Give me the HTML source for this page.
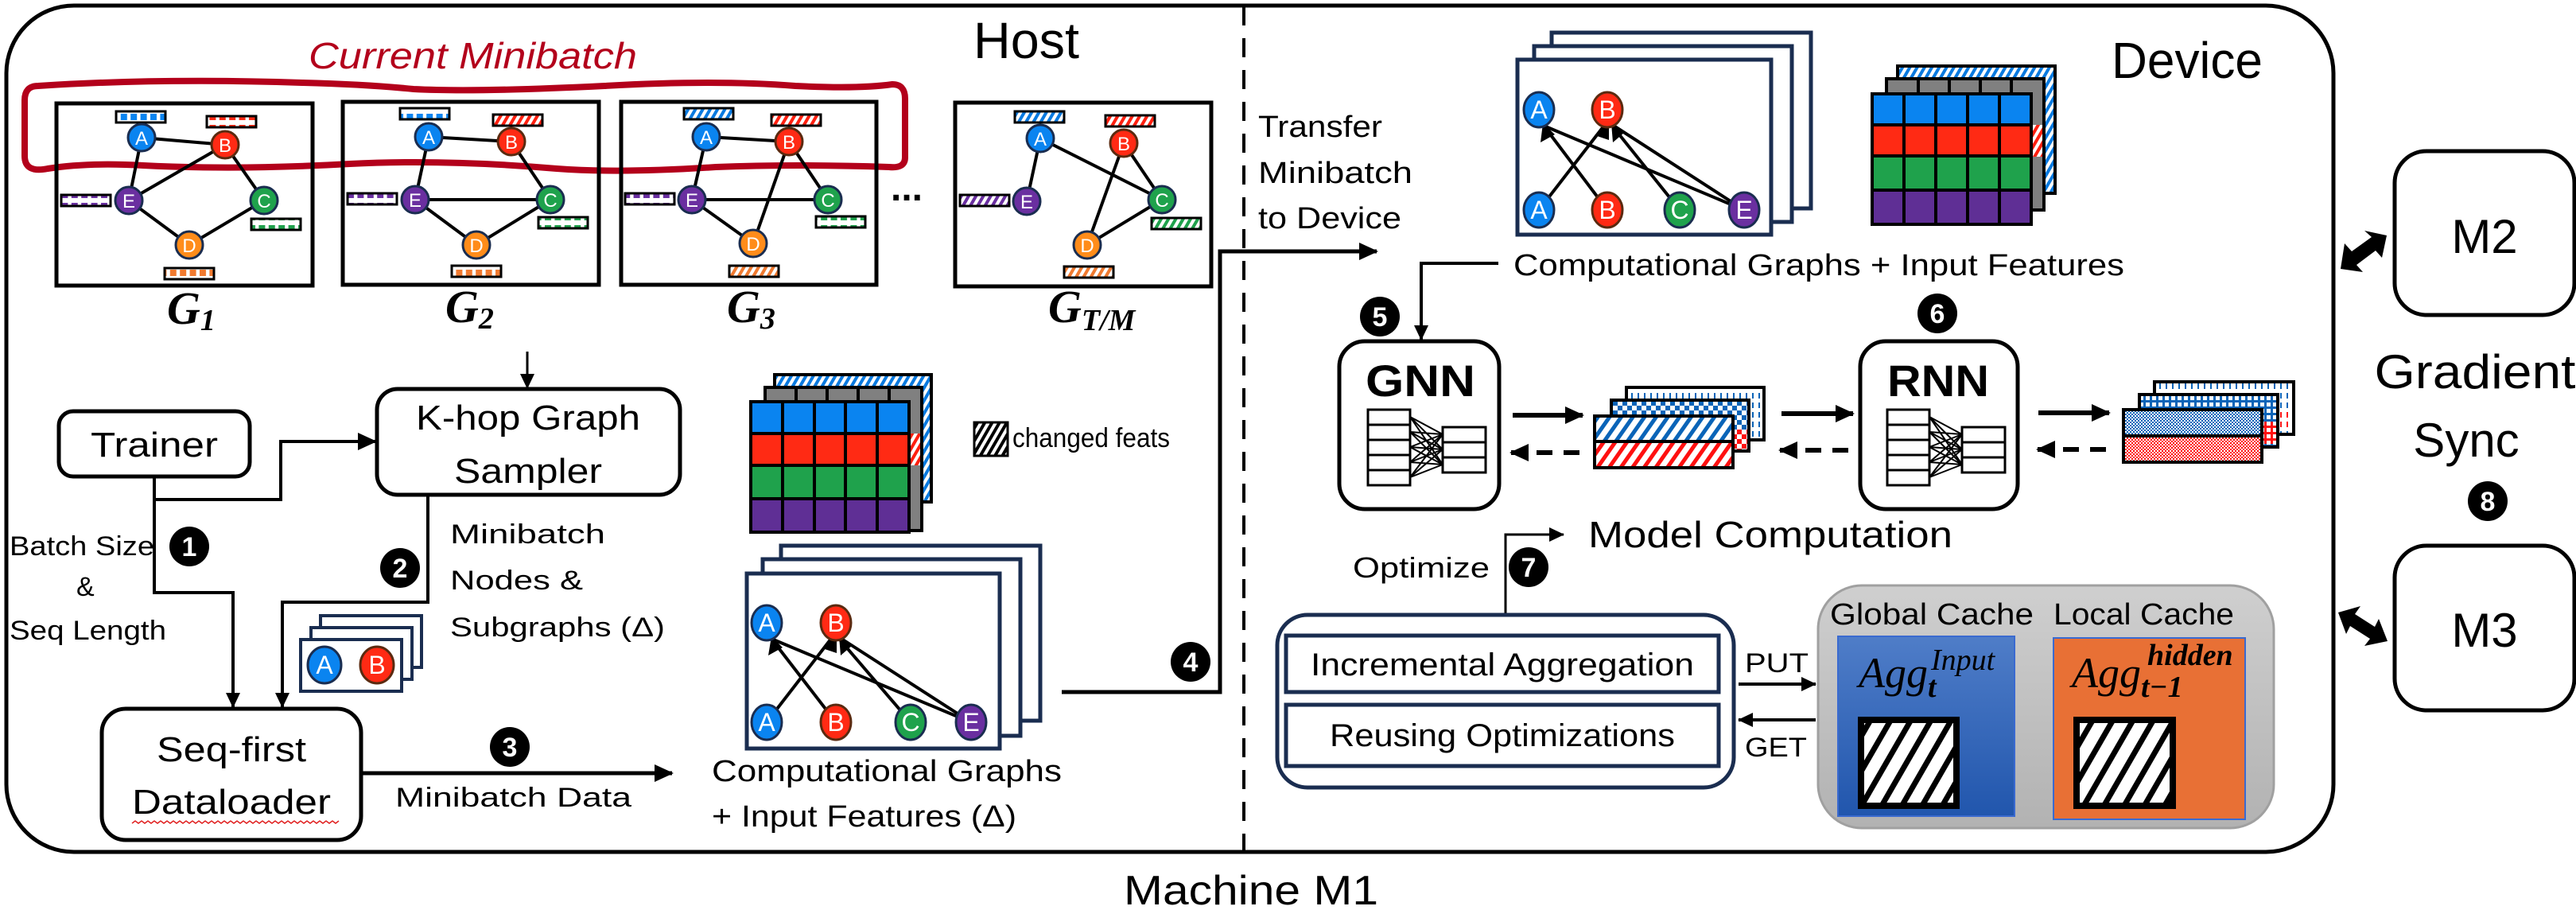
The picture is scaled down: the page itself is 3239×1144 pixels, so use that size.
<!DOCTYPE html>
<html><head><meta charset="utf-8"><style>html,body{margin:0;padding:0;background:#fff}svg{display:block}text{font-family:"Liberation Sans",sans-serif}.sf text,text.sf{font-family:"Liberation Serif",serif}</style></head><body>
<svg width="3239" height="1144" viewBox="0 0 3239 1144" xmlns="http://www.w3.org/2000/svg">
<defs>
<marker id="ah" markerWidth="26" markerHeight="26" refX="22" refY="13" orient="auto" markerUnits="userSpaceOnUse"><path d="M0,2 L24,13 L0,24 Z" fill="#000"/></marker>
<marker id="ahs" markerWidth="20" markerHeight="20" refX="18" refY="10" orient="auto" markerUnits="userSpaceOnUse"><path d="M0,1 L19,10 L0,19 Z" fill="#000"/></marker>
<pattern id="sqB" width="12.4" height="14" patternUnits="userSpaceOnUse"><rect x="3" y="3" width="8" height="8" fill="#0a84f0"/></pattern>
<pattern id="sqR" width="12.4" height="14" patternUnits="userSpaceOnUse"><rect x="3" y="3" width="8" height="8" fill="#ff2a14"/></pattern>
<pattern id="sqG" width="12.4" height="14" patternUnits="userSpaceOnUse"><rect x="3" y="3" width="8" height="8" fill="#1fa24c"/></pattern>
<pattern id="sqP" width="12.4" height="14" patternUnits="userSpaceOnUse"><rect x="3" y="3" width="8" height="8" fill="#6a2fa0"/></pattern>
<pattern id="sqO" width="12.4" height="14" patternUnits="userSpaceOnUse"><rect x="3" y="3" width="8" height="8" fill="#f07a30"/></pattern>
<pattern id="hB" width="8" height="8" patternUnits="userSpaceOnUse" patternTransform="rotate(30)"><rect width="8" height="8" fill="#fff"/><rect width="4" height="8" fill="#0a7ae0"/></pattern>
<pattern id="hR" width="8" height="8" patternUnits="userSpaceOnUse" patternTransform="rotate(30)"><rect width="8" height="8" fill="#fff"/><rect width="4" height="8" fill="#ff2010"/></pattern>
<pattern id="hG" width="8" height="8" patternUnits="userSpaceOnUse" patternTransform="rotate(30)"><rect width="8" height="8" fill="#fff"/><rect width="4" height="8" fill="#1fa24c"/></pattern>
<pattern id="hP" width="8" height="8" patternUnits="userSpaceOnUse" patternTransform="rotate(30)"><rect width="8" height="8" fill="#fff"/><rect width="4" height="8" fill="#6a2fa0"/></pattern>
<pattern id="hO" width="8" height="8" patternUnits="userSpaceOnUse" patternTransform="rotate(30)"><rect width="8" height="8" fill="#fff"/><rect width="4" height="8" fill="#f07a30"/></pattern>
<pattern id="hK" width="8" height="8" patternUnits="userSpaceOnUse" patternTransform="rotate(30)"><rect width="8" height="8" fill="#fff"/><rect width="4" height="8" fill="#000"/></pattern>
<pattern id="hKb" width="22" height="22" patternUnits="userSpaceOnUse" patternTransform="rotate(30)"><rect width="22" height="22" fill="#fff"/><rect width="7" height="22" fill="#000"/></pattern>
<pattern id="hB2" width="12" height="12" patternUnits="userSpaceOnUse" patternTransform="rotate(35)"><rect width="12" height="12" fill="#fff"/><rect width="5" height="12" fill="#0a64b8"/></pattern>
<pattern id="hR2" width="12" height="12" patternUnits="userSpaceOnUse" patternTransform="rotate(35)"><rect width="12" height="12" fill="#fff"/><rect width="5" height="12" fill="#ff1010"/></pattern>
<pattern id="ckB" width="12" height="12" patternUnits="userSpaceOnUse"><rect width="12" height="12" fill="#fff"/><rect width="6" height="6" fill="#0a64b8"/><rect x="6" y="6" width="6" height="6" fill="#0a64b8"/></pattern>
<pattern id="ckR" width="12" height="12" patternUnits="userSpaceOnUse"><rect width="12" height="12" fill="#fff"/><rect width="6" height="6" fill="#ff1010"/><rect x="6" y="6" width="6" height="6" fill="#ff1010"/></pattern>
<pattern id="dtB" width="4" height="4" patternUnits="userSpaceOnUse"><rect width="4" height="4" fill="#fff"/><rect width="2" height="2" fill="#0a64b8"/><rect x="2" y="2" width="2" height="2" fill="#0a64b8"/></pattern>
<pattern id="dtR" width="4" height="4" patternUnits="userSpaceOnUse"><rect width="4" height="4" fill="#fff"/><rect width="2" height="2" fill="#ff1010"/><rect x="2" y="2" width="2" height="2" fill="#ff1010"/></pattern>
<pattern id="grB" width="8" height="8" patternUnits="userSpaceOnUse"><rect width="8" height="8" fill="#0a64b8"/><rect x="2" y="2" width="5" height="5" fill="#fff"/></pattern>
<pattern id="grR" width="8" height="8" patternUnits="userSpaceOnUse"><rect width="8" height="8" fill="#ff1010"/><rect x="2" y="2" width="5" height="5" fill="#fff"/></pattern>
<pattern id="vlB" width="8" height="12" patternUnits="userSpaceOnUse"><rect width="8" height="12" fill="#fff"/><rect x="3" y="2" width="2" height="7" fill="#0a64b8"/></pattern>
<pattern id="vlR" width="8" height="12" patternUnits="userSpaceOnUse"><rect width="8" height="12" fill="#fff"/><rect x="3" y="2" width="2" height="7" fill="#ff1010"/></pattern>
<linearGradient id="gGray" x1="0" y1="0" x2="0" y2="1"><stop offset="0" stop-color="#cfcfcf"/><stop offset="1" stop-color="#b2b2b2"/></linearGradient>
<linearGradient id="gBlue" x1="0" y1="0" x2="0" y2="1"><stop offset="0" stop-color="#4f7dc8"/><stop offset="1" stop-color="#2156ad"/></linearGradient>
</defs>

<path d="M93,7 L2849,7 A85,85 0 0 1 2934,92 L2934,986 A85,85 0 0 1 2849,1071 L93,1071 A85,85 0 0 1 8,986 L8,92 A85,85 0 0 1 93,7 Z" fill="none" stroke="#000" stroke-width="5"/>
<line x1="1564" y1="8" x2="1564" y2="1070" stroke="#000" stroke-width="4" stroke-dasharray="24,16"/>
<text x="1224" y="73" font-size="64" textLength="133" lengthAdjust="spacingAndGlyphs">Host</text>
<text x="2655" y="98" font-size="64" textLength="190" lengthAdjust="spacingAndGlyphs">Device</text>
<text x="1413" y="1137" font-size="52" textLength="320" lengthAdjust="spacingAndGlyphs">Machine M1</text>

<text x="388" y="86" font-size="46" font-style="italic" fill="#b3001b" textLength="413" lengthAdjust="spacingAndGlyphs">Current Minibatch</text>
<path d="M48,108 Q200,98 380,104 Q460,106 520,112 Q600,116 760,108 Q900,100 1000,108 Q1080,112 1122,106 Q1138,106 1138,124 L1138,198 Q1138,212 1118,210 Q1000,206 900,210 Q780,218 700,212 Q560,200 440,206 Q300,214 180,208 Q110,204 60,212 Q31,218 31,196 L31,126 Q31,108 48,108 Z" fill="none" stroke="#b3001b" stroke-width="8"/>

<g stroke="#000" stroke-width="5" fill="none">
<rect x="71" y="130" width="322" height="229"/>
<rect x="431" y="128" width="322" height="230"/>
<rect x="781" y="128" width="321" height="230"/>
<rect x="1201" y="129" width="322" height="231"/>
</g>
<g stroke="#000" stroke-width="4">
<line x1="178" y1="173" x2="283" y2="182"/><line x1="178" y1="173" x2="162" y2="252"/><line x1="283" y1="182" x2="162" y2="252"/><line x1="283" y1="182" x2="332" y2="252"/><line x1="162" y1="252" x2="238" y2="308"/><line x1="332" y1="252" x2="238" y2="308"/>
<line x1="539" y1="172" x2="643" y2="178"/><line x1="539" y1="172" x2="522" y2="251"/><line x1="643" y1="178" x2="692" y2="251"/><line x1="522" y1="251" x2="692" y2="251"/><line x1="522" y1="251" x2="599" y2="308"/><line x1="692" y1="251" x2="599" y2="308"/>
<line x1="888" y1="172" x2="992" y2="178"/><line x1="888" y1="172" x2="870" y2="251"/><line x1="992" y1="178" x2="1041" y2="251"/><line x1="992" y1="178" x2="947" y2="306"/><line x1="870" y1="251" x2="1041" y2="251"/><line x1="870" y1="251" x2="947" y2="306"/>
<line x1="1308" y1="174" x2="1291" y2="253"/><line x1="1308" y1="174" x2="1461" y2="251"/><line x1="1413" y1="180" x2="1461" y2="251"/><line x1="1413" y1="180" x2="1367" y2="308"/><line x1="1461" y1="251" x2="1367" y2="308"/>
</g>
<g stroke="#000" stroke-width="3">
<rect x="146" y="140" width="62" height="14" fill="url(#sqB)"/><rect x="260" y="146" width="62" height="14" fill="url(#sqR)"/><rect x="77" y="245" width="62" height="14" fill="url(#sqP)"/><rect x="316" y="275" width="62" height="14" fill="url(#sqG)"/><rect x="207" y="337" width="62" height="14" fill="url(#sqO)"/>
<rect x="503" y="136" width="62" height="14" fill="url(#sqB)"/><rect x="620" y="144" width="62" height="14" fill="url(#hR)"/><rect x="437" y="243" width="62" height="14" fill="url(#sqP)"/><rect x="677" y="273" width="62" height="14" fill="url(#sqG)"/><rect x="568" y="334" width="62" height="14" fill="url(#sqO)"/>
<rect x="860" y="136" width="62" height="14" fill="url(#hB)"/><rect x="970" y="144" width="62" height="14" fill="url(#hR)"/><rect x="786" y="243" width="62" height="14" fill="url(#sqP)"/><rect x="1026" y="272" width="62" height="14" fill="url(#sqG)"/><rect x="917" y="334" width="62" height="14" fill="url(#hO)"/>
<rect x="1276" y="140" width="62" height="14" fill="url(#hB)"/><rect x="1390" y="145" width="62" height="14" fill="url(#hR)"/><rect x="1207" y="245" width="62" height="14" fill="url(#hP)"/><rect x="1448" y="274" width="62" height="14" fill="url(#hG)"/><rect x="1338" y="335" width="62" height="14" fill="url(#hO)"/>
</g>
<g font-size="24" fill="#fff" text-anchor="middle" stroke-width="3">
<g><circle cx="178" cy="173" r="17" fill="#0a84f0" stroke="#1a2d50"/><text x="178" y="182" stroke="none">A</text><circle cx="283" cy="182" r="17" fill="#ff2a14" stroke="#5a2a10"/><text x="283" y="191" stroke="none">B</text><circle cx="162" cy="252" r="17" fill="#6a2fa0" stroke="#1a2d50"/><text x="162" y="261" stroke="none">E</text><circle cx="332" cy="252" r="17" fill="#1fa24c" stroke="#1a2d50"/><text x="332" y="261" stroke="none">C</text><circle cx="238" cy="308" r="17" fill="#ff8c1a" stroke="#1a2d50"/><text x="238" y="317" stroke="none">D</text></g>
<g><circle cx="539" cy="172" r="17" fill="#0a84f0" stroke="#1a2d50"/><text x="539" y="181" stroke="none">A</text><circle cx="643" cy="178" r="17" fill="#ff2a14" stroke="#5a2a10"/><text x="643" y="187" stroke="none">B</text><circle cx="522" cy="251" r="17" fill="#6a2fa0" stroke="#1a2d50"/><text x="522" y="260" stroke="none">E</text><circle cx="692" cy="251" r="17" fill="#1fa24c" stroke="#1a2d50"/><text x="692" y="260" stroke="none">C</text><circle cx="599" cy="308" r="17" fill="#ff8c1a" stroke="#1a2d50"/><text x="599" y="317" stroke="none">D</text></g>
<g><circle cx="888" cy="172" r="17" fill="#0a84f0" stroke="#1a2d50"/><text x="888" y="181" stroke="none">A</text><circle cx="992" cy="178" r="17" fill="#ff2a14" stroke="#5a2a10"/><text x="992" y="187" stroke="none">B</text><circle cx="870" cy="251" r="17" fill="#6a2fa0" stroke="#1a2d50"/><text x="870" y="260" stroke="none">E</text><circle cx="1041" cy="251" r="17" fill="#1fa24c" stroke="#1a2d50"/><text x="1041" y="260" stroke="none">C</text><circle cx="947" cy="306" r="17" fill="#ff8c1a" stroke="#1a2d50"/><text x="947" y="315" stroke="none">D</text></g>
<g><circle cx="1308" cy="174" r="17" fill="#0a84f0" stroke="#1a2d50"/><text x="1308" y="183" stroke="none">A</text><circle cx="1413" cy="180" r="17" fill="#ff2a14" stroke="#5a2a10"/><text x="1413" y="189" stroke="none">B</text><circle cx="1291" cy="253" r="17" fill="#6a2fa0" stroke="#1a2d50"/><text x="1291" y="262" stroke="none">E</text><circle cx="1461" cy="251" r="17" fill="#1fa24c" stroke="#1a2d50"/><text x="1461" y="260" stroke="none">C</text><circle cx="1367" cy="308" r="17" fill="#ff8c1a" stroke="#1a2d50"/><text x="1367" y="317" stroke="none">D</text></g>
</g>
<text x="1120" y="252" font-size="48" font-weight="bold">...</text>
<g class="sf" font-style="italic" font-weight="bold" font-size="58">
<text x="210" y="407">G<tspan font-size="38" dy="8">1</tspan></text>
<text x="560" y="405">G<tspan font-size="38" dy="8">2</tspan></text>
<text x="914" y="405">G<tspan font-size="38" dy="8">3</tspan></text>
<text x="1318" y="405">G<tspan font-size="38" dy="10">T/M</tspan></text>
</g>

<line x1="663" y1="442" x2="663" y2="488" stroke="#000" stroke-width="3" marker-end="url(#ahs)"/>
<rect x="474" y="489" width="381" height="133" rx="26" fill="#fff" stroke="#000" stroke-width="5"/>
<text x="664" y="540" font-size="44" text-anchor="middle" textLength="282" lengthAdjust="spacingAndGlyphs">K-hop Graph</text>
<text x="664" y="607" font-size="44" text-anchor="middle" textLength="186" lengthAdjust="spacingAndGlyphs">Sampler</text>
<rect x="74" y="517" width="240" height="82" rx="18" fill="#fff" stroke="#000" stroke-width="5"/>
<text x="194" y="574" font-size="44" text-anchor="middle" textLength="160" lengthAdjust="spacingAndGlyphs">Trainer</text>
<polyline points="194,599 194,628 353,628 353,555 472,555" fill="none" stroke="#000" stroke-width="4" marker-end="url(#ah)"/>
<polyline points="194,628 194,745 293,745 293,889" fill="none" stroke="#000" stroke-width="4" marker-end="url(#ahs)"/>
<polyline points="538,622 538,757 355,757 355,889" fill="none" stroke="#000" stroke-width="4" marker-end="url(#ahs)"/>
<g font-size="34">
<text x="12" y="698" textLength="182" lengthAdjust="spacingAndGlyphs">Batch Size</text>
<text x="96" y="749">&amp;</text>
<text x="12" y="804" textLength="197" lengthAdjust="spacingAndGlyphs">Seq Length</text>
<text x="566" y="683" textLength="195" lengthAdjust="spacingAndGlyphs">Minibatch</text>
<text x="566" y="741" textLength="167" lengthAdjust="spacingAndGlyphs">Nodes &amp;</text>
<text x="566" y="800" textLength="270" lengthAdjust="spacingAndGlyphs">Subgraphs (Δ)</text>
</g>
<g font-size="34" font-weight="bold" text-anchor="middle">
<circle cx="238" cy="687" r="25"/><text x="238" y="699" fill="#fff">1</text>
<circle cx="503" cy="714" r="25"/><text x="503" y="726" fill="#fff">2</text>
<circle cx="641" cy="939" r="25"/><text x="641" y="951" fill="#fff">3</text>
<circle cx="1497" cy="832" r="25"/><text x="1497" y="844" fill="#fff">4</text>
<circle cx="1735" cy="398" r="25"/><text x="1735" y="410" fill="#fff">5</text>
<circle cx="2436" cy="394" r="25"/><text x="2436" y="406" fill="#fff">6</text>
<circle cx="1922" cy="713" r="25"/><text x="1922" y="725" fill="#fff">7</text>
<circle cx="3128" cy="630" r="25"/><text x="3128" y="642" fill="#fff">8</text>
</g>
<g fill="#fff" stroke="#1a2d50" stroke-width="4">
<rect x="403" y="774" width="127" height="65"/><rect x="391" y="789" width="127" height="65"/><rect x="378" y="804" width="127" height="65"/>
</g>
<g font-size="32" fill="#fff" text-anchor="middle" stroke-width="3">
<ellipse cx="408" cy="836" rx="21" ry="23" fill="#0a84f0" stroke="#1a2d50"/><text x="408" y="847" stroke="none">A</text>
<ellipse cx="474" cy="836" rx="21" ry="23" fill="#ff2a14" stroke="#5a2a10"/><text x="474" y="847" stroke="none">B</text>
</g>
<rect x="128" y="891" width="326" height="165" rx="30" fill="#fff" stroke="#000" stroke-width="5"/>
<text x="291" y="957" font-size="44" text-anchor="middle" textLength="188" lengthAdjust="spacingAndGlyphs">Seq-first</text>
<text x="291" y="1023" font-size="44" text-anchor="middle" textLength="250" lengthAdjust="spacingAndGlyphs">Dataloader</text>
<path d="M166,1035 l4,-3 l4,3 l4,-3 l4,3 l4,-3 l4,3 l4,-3 l4,3 l4,-3 l4,3 l4,-3 l4,3 l4,-3 l4,3 l4,-3 l4,3 l4,-3 l4,3 l4,-3 l4,3 l4,-3 l4,3 l4,-3 l4,3 l4,-3 l4,3 l4,-3 l4,3 l4,-3 l4,3 l4,-3 l4,3 l4,-3 l4,3 l4,-3 l4,3 l4,-3 l4,3 l4,-3 l4,3 l4,-3 l4,3 l4,-3 l4,3 l4,-3 l4,3 l4,-3 l4,3 l4,-3 l4,3 l4,-3 l4,3 l4,-3 l4,3 l4,-3 l4,3 l4,-3 l4,3 l4,-3 l4,3 l4,-3 l4,3 l4,-3 l4,3 l4,-3" fill="none" stroke="#e02020" stroke-width="1.5"/>
<line x1="456" y1="972" x2="845" y2="972" stroke="#000" stroke-width="5" marker-end="url(#ah)"/>
<text x="497" y="1014" font-size="34" textLength="297" lengthAdjust="spacingAndGlyphs">Minibatch Data</text>

<g stroke="#000" stroke-width="4">
<rect x="974" y="471" width="197" height="160" fill="url(#hB)"/>
<rect x="962" y="487" width="197" height="180" fill="#808080"/>
<line x1="1001" y1="487" x2="1001" y2="505"/><line x1="1040" y1="487" x2="1040" y2="505"/><line x1="1079" y1="487" x2="1079" y2="505"/><line x1="1118" y1="487" x2="1118" y2="505"/>
<rect x="1145" y="545" width="12" height="40" fill="url(#hR)" stroke="none"/>
<rect x="944" y="505" width="199" height="40" fill="#0a84f0"/>
<rect x="944" y="545" width="199" height="40" fill="#ff2a14"/>
<rect x="944" y="585" width="199" height="42" fill="#1fa24c"/>
<rect x="944" y="627" width="199" height="42" fill="#5f2f95"/>
<line x1="984" y1="505" x2="984" y2="669"/><line x1="1024" y1="505" x2="1024" y2="669"/><line x1="1063" y1="505" x2="1063" y2="669"/><line x1="1103" y1="505" x2="1103" y2="669"/>
</g>
<rect x="1225" y="531" width="42" height="42" fill="url(#hK)" stroke="#000" stroke-width="3"/>
<text x="1273" y="562" font-size="34" textLength="198" lengthAdjust="spacingAndGlyphs">changed feats</text>

<g fill="#fff" stroke="#1a2d50" stroke-width="5">
<rect x="982" y="686" width="326" height="220"/><rect x="959" y="703" width="324" height="222"/><rect x="939" y="721" width="318" height="220"/>
</g>
<g stroke="#000" stroke-width="4">
<line x1="964" y1="908" x2="1045" y2="803"/><line x1="1051" y1="908" x2="970" y2="803"/><line x1="1145" y1="908" x2="1055" y2="803"/><line x1="1221" y1="908" x2="970" y2="803"/><line x1="1221" y1="908" x2="1058" y2="803"/>
</g>
<g fill="#000"><path d="M970,800 l-4,24 l18,-10z"/><path d="M1052,800 l-18,15 l18,6z"/><path d="M1055,800 l2,24 l14,-12z"/></g>
<g font-size="32" fill="#fff" text-anchor="middle" stroke-width="3">
<ellipse cx="964" cy="783" rx="19" ry="22" fill="#0a84f0" stroke="#1a2d50"/><text x="964" y="794" stroke="none">A</text>
<ellipse cx="1051" cy="783" rx="19" ry="22" fill="#ff2a14" stroke="#5a2a10"/><text x="1051" y="794" stroke="none">B</text>
<ellipse cx="964" cy="908" rx="19" ry="22" fill="#0a84f0" stroke="#1a2d50"/><text x="964" y="919" stroke="none">A</text>
<ellipse cx="1051" cy="908" rx="19" ry="22" fill="#ff2a14" stroke="#5a2a10"/><text x="1051" y="919" stroke="none">B</text>
<ellipse cx="1145" cy="908" rx="19" ry="22" fill="#1fa24c" stroke="#1a2d50"/><text x="1145" y="919" stroke="none">C</text>
<ellipse cx="1221" cy="908" rx="19" ry="22" fill="#6a2fa0" stroke="#1a2d50"/><text x="1221" y="919" stroke="none">E</text>
</g>
<text x="895" y="982" font-size="38" textLength="440" lengthAdjust="spacingAndGlyphs">Computational Graphs</text>
<text x="895" y="1039" font-size="38" textLength="383" lengthAdjust="spacingAndGlyphs">+ Input Features (Δ)</text>
<polyline points="1335,870 1534,870 1534,316 1731,316" fill="none" stroke="#000" stroke-width="5" marker-end="url(#ah)"/>
<g font-size="38"><text x="1582" y="172" textLength="156" lengthAdjust="spacingAndGlyphs">Transfer</text><text x="1582" y="230" textLength="194" lengthAdjust="spacingAndGlyphs">Minibatch</text><text x="1582" y="287" textLength="180" lengthAdjust="spacingAndGlyphs">to Device</text></g>

<g fill="#fff" stroke="#1a2d50" stroke-width="5">
<rect x="1951" y="41" width="326" height="221"/><rect x="1929" y="58" width="324" height="221"/><rect x="1908" y="75" width="319" height="220"/>
</g>
<g stroke="#000" stroke-width="4">
<line x1="1935" y1="264" x2="2017" y2="158"/><line x1="2021" y1="264" x2="1941" y2="158"/><line x1="2112" y1="264" x2="2027" y2="158"/><line x1="2193" y1="264" x2="1941" y2="158"/><line x1="2193" y1="264" x2="2029" y2="158"/>
</g>
<g fill="#000"><path d="M1940,155 l-3,24 l18,-10z"/><path d="M2023,155 l-18,15 l18,6z"/><path d="M2026,155 l2,24 l14,-12z"/></g>
<g font-size="32" fill="#fff" text-anchor="middle" stroke-width="3">
<ellipse cx="1935" cy="138" rx="19" ry="22" fill="#0a84f0" stroke="#1a2d50"/><text x="1935" y="149" stroke="none">A</text>
<ellipse cx="2021" cy="138" rx="19" ry="22" fill="#ff2a14" stroke="#5a2a10"/><text x="2021" y="149" stroke="none">B</text>
<ellipse cx="1935" cy="264" rx="19" ry="22" fill="#0a84f0" stroke="#1a2d50"/><text x="1935" y="275" stroke="none">A</text>
<ellipse cx="2021" cy="264" rx="19" ry="22" fill="#ff2a14" stroke="#5a2a10"/><text x="2021" y="275" stroke="none">B</text>
<ellipse cx="2112" cy="264" rx="19" ry="22" fill="#1fa24c" stroke="#1a2d50"/><text x="2112" y="275" stroke="none">C</text>
<ellipse cx="2193" cy="264" rx="19" ry="22" fill="#6a2fa0" stroke="#1a2d50"/><text x="2193" y="275" stroke="none">E</text>
</g>
<g stroke="#000" stroke-width="4">
<rect x="2386" y="83" width="198" height="160" fill="url(#hB)"/>
<rect x="2372" y="99" width="198" height="165" fill="#808080"/>
<line x1="2412" y1="99" x2="2412" y2="118"/><line x1="2451" y1="99" x2="2451" y2="118"/><line x1="2490" y1="99" x2="2490" y2="118"/><line x1="2529" y1="99" x2="2529" y2="118"/>
<rect x="2556" y="157" width="12" height="40" fill="url(#hR)" stroke="none"/>
<rect x="2354" y="118" width="200" height="39" fill="#0a84f0"/>
<rect x="2354" y="157" width="200" height="39" fill="#ff2a14"/>
<rect x="2354" y="196" width="200" height="43" fill="#1fa24c"/>
<rect x="2354" y="239" width="200" height="43" fill="#5f2f95"/>
<line x1="2394" y1="118" x2="2394" y2="282"/><line x1="2434" y1="118" x2="2434" y2="282"/><line x1="2474" y1="118" x2="2474" y2="282"/><line x1="2514" y1="118" x2="2514" y2="282"/>
</g>
<text x="1903" y="346" font-size="38" textLength="768" lengthAdjust="spacingAndGlyphs">Computational Graphs + Input Features</text>
<polyline points="1884,331 1787,331 1787,427" fill="none" stroke="#000" stroke-width="4" marker-end="url(#ahs)"/>

<rect x="1684" y="429" width="201" height="211" rx="32" fill="#fff" stroke="#000" stroke-width="5"/>
<rect x="2339" y="429" width="198" height="211" rx="32" fill="#fff" stroke="#000" stroke-width="5"/>
<text x="1786" y="498" font-size="56" font-weight="bold" text-anchor="middle" textLength="138" lengthAdjust="spacingAndGlyphs">GNN</text>
<text x="2437" y="498" font-size="56" font-weight="bold" text-anchor="middle" textLength="128" lengthAdjust="spacingAndGlyphs">RNN</text>
<g id="net" stroke="#000" stroke-width="3" fill="#fff">
<g stroke-width="2"><path d="M1773,524 L1814,546 M1773,524 L1814,565 M1773,524 L1814,584 M1773,543 L1814,546 M1773,543 L1814,565 M1773,543 L1814,584 M1773,562 L1814,546 M1773,562 L1814,565 M1773,562 L1814,584 M1773,581 L1814,546 M1773,581 L1814,565 M1773,581 L1814,584 M1773,600 L1814,546 M1773,600 L1814,565 M1773,600 L1814,584"/></g>
<rect x="1720" y="515" width="53" height="19"/><rect x="1720" y="534" width="53" height="19"/><rect x="1720" y="553" width="53" height="19"/><rect x="1720" y="572" width="53" height="19"/><rect x="1720" y="591" width="53" height="19"/>
<rect x="1814" y="537" width="54" height="19"/><rect x="1814" y="556" width="54" height="19"/><rect x="1814" y="575" width="54" height="19"/>
</g>
<use href="#net" x="653" y="0"/>
<g stroke="#000" stroke-width="6">
<line x1="1902" y1="522" x2="1990" y2="522" marker-end="url(#ah)"/>
<line x1="2240" y1="520" x2="2330" y2="520" marker-end="url(#ah)"/>
<line x1="2563" y1="519" x2="2652" y2="519" marker-end="url(#ah)"/>
<line x1="1986" y1="569" x2="1900" y2="569" stroke-dasharray="20,14" marker-end="url(#ah)"/>
<line x1="2324" y1="566" x2="2238" y2="566" stroke-dasharray="20,14" marker-end="url(#ah)"/>
<line x1="2648" y1="565" x2="2562" y2="565" stroke-dasharray="20,14" marker-end="url(#ah)"/>
</g>
<g stroke="#000" stroke-width="4">
<rect x="2045" y="487" width="173" height="66" fill="url(#vlB)"/>
<rect x="2026" y="503" width="173" height="64" fill="url(#ckB)"/>
<rect x="2005" y="523" width="174" height="32" fill="url(#hB2)"/>
<rect x="2005" y="555" width="174" height="33" fill="url(#hR2)"/>
</g>
<rect x="2181" y="540" width="16" height="25" fill="url(#ckR)"/>
<g stroke="#000" stroke-width="4">
<rect x="2709" y="480" width="175" height="66" fill="url(#vlB)"/>
<rect x="2690" y="496" width="174" height="66" fill="url(#grB)"/>
<rect x="2670" y="515" width="174" height="33" fill="url(#dtB)"/>
<rect x="2670" y="548" width="174" height="33" fill="url(#dtR)"/>
</g>
<rect x="2846" y="530" width="16" height="28" fill="url(#grR)"/>
<rect x="2866" y="514" width="16" height="28" fill="url(#vlR)"/>

<text x="1997" y="688" font-size="46" textLength="458" lengthAdjust="spacingAndGlyphs">Model Computation</text>
<text x="1701" y="726" font-size="36" textLength="172" lengthAdjust="spacingAndGlyphs">Optimize</text>
<polyline points="1893,773 1893,672 1966,672" fill="none" stroke="#000" stroke-width="3" marker-end="url(#ahs)"/>

<rect x="1606" y="773" width="574" height="217" rx="38" fill="#fff" stroke="#1a2d50" stroke-width="5"/>
<rect x="1617" y="799" width="544" height="71" fill="#fff" stroke="#1a2d50" stroke-width="5"/>
<rect x="1617" y="886" width="544" height="77" fill="#fff" stroke="#1a2d50" stroke-width="5"/>
<text x="1889" y="849" font-size="40" text-anchor="middle" textLength="482" lengthAdjust="spacingAndGlyphs">Incremental Aggregation</text>
<text x="1889" y="938" font-size="40" text-anchor="middle" textLength="434" lengthAdjust="spacingAndGlyphs">Reusing Optimizations</text>
<line x1="2186" y1="860" x2="2283" y2="860" stroke="#000" stroke-width="4" marker-end="url(#ahs)"/>
<line x1="2283" y1="905" x2="2186" y2="905" stroke="#000" stroke-width="4" marker-end="url(#ahs)"/>
<text x="2194" y="845" font-size="34" textLength="80" lengthAdjust="spacingAndGlyphs">PUT</text>
<text x="2194" y="951" font-size="34" textLength="78" lengthAdjust="spacingAndGlyphs">GET</text>

<rect x="2286" y="736" width="573" height="305" rx="55" fill="url(#gGray)" stroke="#a0a0a0" stroke-width="3"/>
<text x="2301" y="785" font-size="38" textLength="256" lengthAdjust="spacingAndGlyphs">Global Cache</text>
<text x="2582" y="785" font-size="38" textLength="227" lengthAdjust="spacingAndGlyphs">Local Cache</text>
<rect x="2311" y="800" width="222" height="226" fill="url(#gBlue)" stroke="#3a6ad0" stroke-width="2"/>
<rect x="2582" y="802" width="241" height="228" fill="#e87035" stroke="#3a6ad0" stroke-width="2"/>
<rect x="2340" y="905" width="120" height="108" fill="url(#hKb)" stroke="#000" stroke-width="8"/>
<rect x="2611" y="905" width="121" height="108" fill="url(#hKb)" stroke="#000" stroke-width="8"/>
<g class="sf" font-style="italic">
<text x="2337" y="864" font-size="54">Agg<tspan font-size="38" dy="12" font-weight="bold">t</tspan></text>
<text x="2428" y="842" font-size="38">Input</text>
<text x="2605" y="864" font-size="54">Agg<tspan font-size="38" dy="12" font-weight="bold">t−1</tspan></text>
<text x="2700" y="836" font-size="38" font-weight="bold">hidden</text>
</g>

<rect x="3011" y="190" width="226" height="206" rx="40" fill="#fff" stroke="#000" stroke-width="5"/>
<rect x="3011" y="686" width="226" height="207" rx="40" fill="#fff" stroke="#000" stroke-width="5"/>
<text x="3124" y="318" font-size="60" text-anchor="middle">M2</text>
<text x="3124" y="813" font-size="60" text-anchor="middle">M3</text>
<text x="3112" y="488" font-size="60" text-anchor="middle" textLength="253" lengthAdjust="spacingAndGlyphs">Gradient</text>
<text x="3101" y="574" font-size="60" text-anchor="middle">Sync</text>
<path d="M2943,338 L2948,306 L2957,316 L2982,298 L2973,290 L3001,296 L2995,324 L2987,315 L2963,333 L2971,342 Z" fill="#000"/>
<path d="M2940,770 L2968,762 L2961,772 L2986,788 L2991,778 L3002,806 L2973,812 L2980,803 L2955,787 L2950,797 Z" fill="#000"/>
</svg>
</body></html>
